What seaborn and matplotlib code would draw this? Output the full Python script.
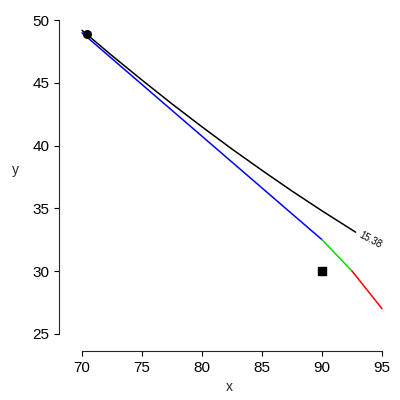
import matplotlib
matplotlib.use("Agg")
import matplotlib.pyplot as plt
import seaborn as sns

curve_x = [70.0, 72.5, 75.0, 77.5, 80.0, 82.5, 85.0, 87.5, 90.0, 92.8]
curve_y = [49.2, 47.18, 45.23, 43.33, 41.5, 39.73, 38.03, 36.38, 34.8, 33.1]
blue_x = [70.0, 90.0]; blue_y = [49.0, 32.5]
green_x = [90.0, 92.5]; green_y = [32.5, 30.0]
red_x = [92.5, 95.0]; red_y = [30.0, 27.0]
circle_pt = (70.4, 48.9)
square_pt = (90.0, 30.0)

sns.set_style("ticks")
plt.rcParams['font.family'] = ['Liberation Sans', 'DejaVu Sans']
fig, ax = plt.subplots(figsize=(4, 4), dpi=100)
fig.subplots_adjust(left=0.175, right=0.97, top=0.965, bottom=0.15)
sns.lineplot(x=curve_x, y=curve_y, color='black', lw=1.1, ax=ax)
sns.lineplot(x=blue_x, y=blue_y, color='blue', lw=1.1, ax=ax)
sns.lineplot(x=green_x, y=green_y, color='#00dd00', lw=1.1, ax=ax)
sns.lineplot(x=red_x, y=red_y, color='red', lw=1.1, ax=ax)
ax.scatter([circle_pt[0]], [circle_pt[1]], marker='o', color='black', s=30, zorder=5)
ax.scatter([square_pt[0]], [square_pt[1]], marker='s', color='black', s=30, zorder=5)
ax.text(94.0, 32.5, "15.38", rotation=-28, fontsize=7, ha='center', va='center', color='black')
ax.set_xlim(69.0, 95.5)
ax.set_ylim(24.5, 50.5)
ax.set_xticks([70, 75, 80, 85, 90, 95])
ax.set_yticks([25, 30, 35, 40, 45, 50])
ax.set_xlabel("x"); ax.set_ylabel("y", rotation=0, labelpad=12)
for s in ['top', 'right']:
    ax.spines[s].set_visible(False)
ax.spines['left'].set_bounds(25, 50)
ax.spines['bottom'].set_bounds(70, 95)
ax.spines['left'].set_position(('outward', 8))
ax.spines['bottom'].set_position(('outward', 8))
ax.tick_params(labelsize=11, colors='black')
fig.savefig("out.png")
